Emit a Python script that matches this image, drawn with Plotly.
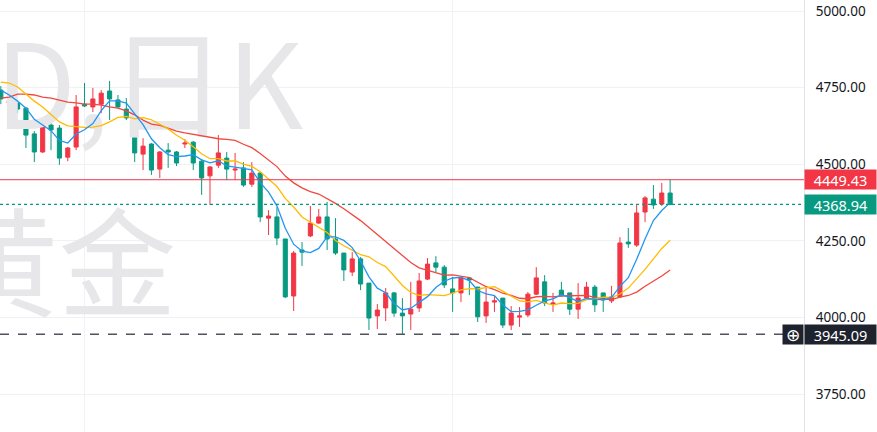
import pandas as pd
import plotly.graph_objects as go

# daily candles (red = up, green = down)
opens = [4742, 4700, 4700, 4683, 4599, 4540, 4628, 4618, 4523, 4556,
         4696, 4687, 4696, 4739, 4710, 4680, 4651, 4533, 4566, 4484,
         4546, 4540, 4566, 4572, 4510, 4462, 4497, 4520, 4481, 4488,
         4435, 4471, 4324, 4328, 4256, 4070, 4220, 4266, 4308, 4328,
         4256, 4210, 4148, 4191, 4112, 4005, 4031, 4080, 4014, 4011,
         4031, 4125, 4178, 4164, 4093, 4080, 4129, 4099, 4005, 4050,
         4063, 3975, 4001, 4008, 4076, 4116, 4044, 4089, 4080, 4027,
         4063, 4099, 4080, 4054, 4067, 4246, 4236, 4344, 4386, 4370,
         4406]
highs = [4755, 4726, 4703, 4687, 4608, 4625, 4657, 4628, 4556, 4726,
         4765, 4749, 4742, 4772, 4726, 4716, 4661, 4585, 4569, 4543,
         4569, 4543, 4582, 4576, 4517, 4494, 4595, 4540, 4537, 4507,
         4507, 4475, 4350, 4360, 4256, 4217, 4246, 4364, 4354, 4377,
         4324, 4210, 4213, 4197, 4112, 4044, 4096, 4083, 4063, 4116,
         4145, 4194, 4200, 4171, 4132, 4132, 4132, 4099, 4096, 4073,
         4063, 4037, 4034, 4083, 4164, 4138, 4080, 4116, 4080, 4112,
         4116, 4106, 4080, 4103, 4262, 4292, 4370, 4396, 4432, 4439,
         4449.43]
lows = [4696, 4654, 4667, 4553, 4507, 4537, 4546, 4498, 4510, 4546,
        4687, 4670, 4667, 4644, 4683, 4644, 4507, 4481, 4465, 4455,
        4488, 4494, 4553, 4481, 4400, 4367, 4488, 4448, 4448, 4426,
        4426, 4311, 4269, 4236, 4063, 4021, 4168, 4262, 4305, 4220,
        4204, 4119, 4135, 4089, 3959, 3962, 3988, 4002, 3945.09, 3959,
        4018, 4122, 4148, 4096, 4018, 4050, 4073, 3985, 3982, 4018,
        3965, 3959, 3969, 4001, 4073, 4037, 4018, 4067, 4008, 3995,
        4063, 4018, 4018, 4047, 4063, 4227, 4230, 4311, 4354, 4364,
        4366]
closes = [4713, 4706, 4680, 4595, 4540, 4621, 4612, 4520, 4553, 4687,
          4690, 4713, 4732, 4713, 4687, 4651, 4537, 4559, 4481, 4540,
          4540, 4504, 4569, 4504, 4455, 4491, 4537, 4484, 4484, 4432,
          4471, 4328, 4331, 4259, 4067, 4210, 4213, 4308, 4328, 4256,
          4210, 4155, 4191, 4109, 3998, 4024, 4080, 4014, 4005, 4027,
          4119, 4174, 4164, 4106, 4080, 4129, 4122, 4002, 4050, 4054,
          3975, 4014, 4005, 4076, 4129, 4047, 4047, 4073, 4027, 4063,
          4099, 4041, 4057, 4067, 4243, 4240, 4341, 4390, 4367, 4406,
          4368.94]

# moving average values at the left edge (history before the visible window)
ma5_head = [4742, 4726, 4706, 4683]
ma10_head = [4768, 4765, 4752, 4729, 4706, 4687, 4661, 4638, 4625]
ma20_head = [4716, 4719, 4729, 4729, 4726, 4719, 4716, 4710, 4703, 4700,
             4696, 4696, 4693, 4687, 4683, 4674, 4661, 4644, 4631]

month_starts = [10, 54]
y_ticks = [3750, 4000, 4250, 4500, 4750, 5000]

mark_price = 4449.43
last_price = 4368.94
cross_price = 3945.09

UP = "#f23645"
DOWN = "#089981"

df = pd.DataFrame({"open": opens, "high": highs, "low": lows, "close": closes})
df["i"] = range(len(df))


def moving_avg(n, head):
    ma = df["close"].rolling(n).mean()
    ma.iloc[:len(head)] = head
    return ma


fig = go.Figure()

# watermark
fig.add_trace(go.Scatter(
    x=[-4.8, -7.2], y=[4710, 4128], mode="text",
    text=["XAUUSD,日K", "现货黄金"],
    textfont=dict(size=118, color="#e7e7ea", family="Noto Sans CJK SC"),
    hoverinfo="skip", showlegend=False,
))

fig.add_trace(go.Candlestick(
    x=df["i"], open=df["open"], high=df["high"], low=df["low"], close=df["close"],
    increasing=dict(line=dict(color=UP, width=1), fillcolor=UP),
    decreasing=dict(line=dict(color=DOWN, width=1), fillcolor=DOWN),
    whiskerwidth=0, showlegend=False,
))

for n, head, color in [(20, ma20_head, "#f0483e"), (10, ma10_head, "#ffbb00"),
                       (5, ma5_head, "#2196f3")]:
    fig.add_trace(go.Scatter(
        x=df["i"], y=moving_avg(n, head), mode="lines",
        line=dict(color=color, width=1.3), hoverinfo="skip", showlegend=False,
    ))

fig.add_hline(y=mark_price, line=dict(color=UP, width=1))
fig.add_hline(y=last_price, line=dict(color=DOWN, width=1.2, dash="dot"))
fig.add_shape(type="line", xref="paper", x0=0, x1=0.974, yref="y",
              y0=cross_price, y1=cross_price,
              line=dict(color="#50535e", width=1.5, dash="dash"))

for price, bg in [(mark_price, UP), (last_price, DOWN), (cross_price, "#1e222d")]:
    fig.add_annotation(
        xref="paper", x=1, xanchor="left", yref="y", y=price, yanchor="middle",
        text=f"{price:.2f}", showarrow=False, bgcolor=bg, width=69, height=17,
        font=dict(color="white", size=14.5, family="Noto Sans"),
    )
fig.add_annotation(
    xref="paper", x=1, xanchor="right", yref="y", y=cross_price, yanchor="middle",
    text="⊕", showarrow=False, bgcolor="#1e222d", width=18, height=17,
    font=dict(color="white", size=17, family="DejaVu Sans"),
)

fig.update_layout(
    width=877, height=432,
    margin=dict(l=0, r=73, t=0, b=0),
    paper_bgcolor="white", plot_bgcolor="white",
    xaxis=dict(range=[-0.1, 96.0], rangeslider=dict(visible=False),
               tickvals=month_starts, showticklabels=False, showgrid=True,
               gridcolor="#f0f1f4", zeroline=False, showline=False),
    yaxis=dict(side="right", range=[3626, 5036], tickvals=y_ticks,
               tickformat=".2f", showgrid=True, gridcolor="#f0f1f4",
               zeroline=False, showline=True, linecolor="#e0e3eb",
               ticklabelstandoff=8,
               tickfont=dict(size=13.5, color="#131722", family="Noto Sans")),
    hovermode=False,
)

fig.write_html("out.html", config={"displayModeBar": False},
               post_script="document.body.style.margin='0';")
